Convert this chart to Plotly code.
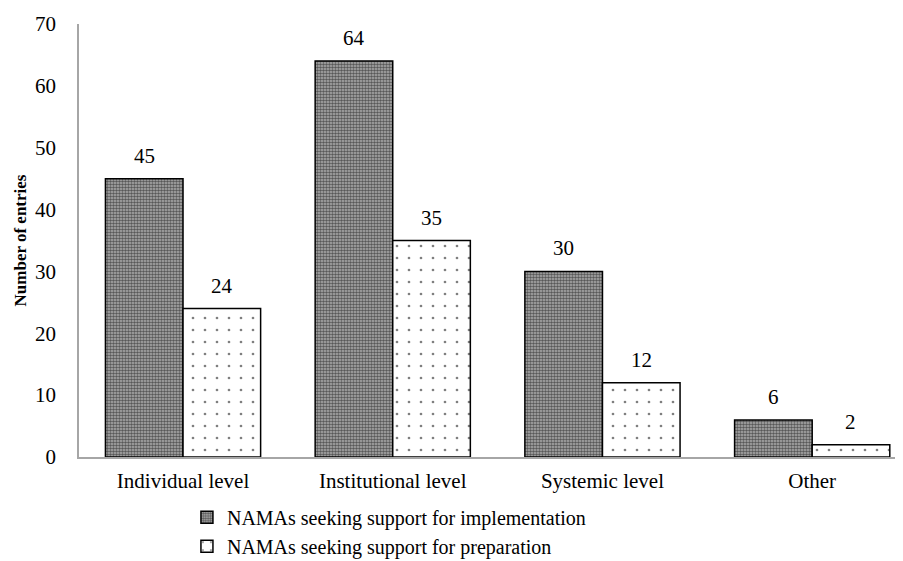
import plotly.graph_objects as go

categories = ["Individual level", "Institutional level", "Systemic level", "Other"]
implementation = [45, 64, 30, 6]
preparation = [24, 35, 12, 2]
series_names = ["NAMAs seeking support for implementation", "NAMAs seeking support for preparation"]

FONT = "Liberation Serif, Times New Roman, serif"
FS = 21

fig = go.Figure()
fig.add_trace(go.Bar(
    x=categories, y=implementation, name=series_names[0],
    marker=dict(color="#7f7f7f", line=dict(color="black", width=1.5),
                pattern=dict(shape=".", fgcolor="black", bgcolor="#b0b0b0", size=3, solidity=0.55)),
))
fig.add_trace(go.Bar(
    x=categories, y=preparation, name=series_names[1],
    marker=dict(color="white", line=dict(color="black", width=1.5),
                pattern=dict(shape=".", fgcolor="black", bgcolor="white", size=12, solidity=0.04)),
))

bargap = 0.26
half = (1 - bargap) / 4
for i, (a, b) in enumerate(zip(implementation, preparation)):
    fig.add_annotation(x=i - half, y=a, text=str(a), showarrow=False, yanchor="bottom", yshift=9,
                       xref="x", yref="y", font=dict(family=FONT, size=FS, color="black"))
    fig.add_annotation(x=i + half, y=b, text=str(b), showarrow=False, yanchor="bottom", yshift=9,
                       xref="x", yref="y", font=dict(family=FONT, size=FS, color="black"))

fig.update_layout(
    width=895, height=553,
    margin=dict(l=71, r=0, t=16, b=104, autoexpand=False),
    paper_bgcolor="white", plot_bgcolor="white",
    barmode="group", bargap=bargap, bargroupgap=0,
    font=dict(family=FONT, size=FS, color="black"),
    showlegend=True,
    legend=dict(orientation="v", x=0.131, xanchor="left", y=-0.094, yanchor="top",
                font=dict(family=FONT, size=20, color="black"), itemwidth=30,
                tracegroupgap=0, bgcolor="rgba(0,0,0,0)"),
)
fig.update_xaxes(range=[-0.496, 3.433], showline=True, linecolor="#a6a6a6", linewidth=1.5,
                 showgrid=False, ticks="", automargin=False, ticklabelstandoff=4,
                 tickfont=dict(family=FONT, size=FS))
fig.update_yaxes(range=[0, 70], dtick=10, showline=True, linecolor="#a6a6a6", linewidth=1.5,
                 showgrid=False, zeroline=False, ticks="", ticklabelstandoff=17, automargin=False,
                 tickfont=dict(family=FONT, size=FS),
                 title=dict(text="<b>Number of entries</b>", font=dict(family=FONT, size=17), standoff=4))

fig.write_html("out.html")
